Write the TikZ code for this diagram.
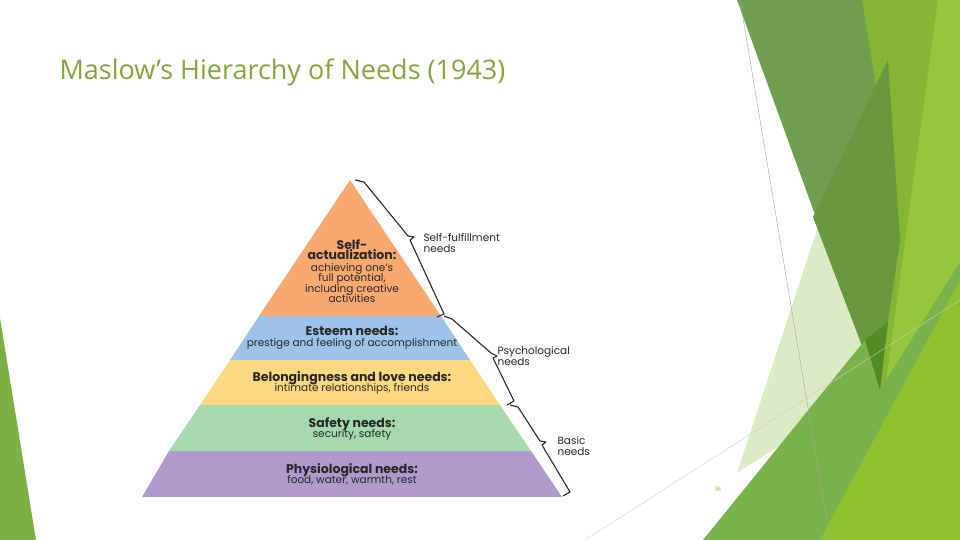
\documentclass[tikz,border=0pt]{standalone}
\usepackage{fontspec}
\setmainfont{Poppins}
\newfontfamily\titlefont{Open Sans}
\newcommand\hdf{\fontsize{12.5}{13.5}\selectfont\bfseries}
\begin{document}
\begin{tikzpicture}[x=1pt,y=-1pt,
  lvl/.style={align=center,font=\fontsize{10.5}{12.5}\selectfont,text=black!85},
  side/.style={align=left,anchor=west,font=\fontsize{10.5}{12.5}\selectfont,text=black!85},
  brace/.style={line width=1.1pt,black!85,line join=round}]
\useasboundingbox (0,0) rectangle (960,540);
\fill[white] (0,0) rectangle (960,540);
% decorations
\fill[color={rgb,255:red,122;green,176;blue,70}] (0,318) -- (36,540) -- (0,540) -- cycle;
\fill[color={rgb,255:red,221;green,235;blue,197}] (737,473) -- (830,190) -- (880,390) -- (850,400) -- cycle;
\fill[color={rgb,255:red,133;green,181;blue,52}] (862,0) -- (960,0) -- (960,540) -- (880,540) -- (878,388) -- cycle;
\fill[color={rgb,255:red,150;green,198;blue,60}] (938,0) -- (960,0) -- (960,540) -- (900,540) -- (878,440) -- cycle;
\fill[color={rgb,255:red,111;green,158;blue,78}] (737,0) -- (862,0) -- (900,240) -- (878,388) -- cycle;
\fill[color={rgb,255:red,106;green,152;blue,64}] (813,217) -- (888,60) -- (900,240) -- (878,388) -- cycle;
\fill[color={rgb,255:red,121;green,178;blue,74}] (703,540) -- (865,340) -- (880,390) -- (960,262) -- (960,540) -- cycle;
\fill[color={rgb,255:red,141;green,193;blue,45}] (820,540) -- (960,280) -- (960,540) -- cycle;
\fill[color={rgb,255:red,80;green,140;blue,35}] (865,340) -- (888,322) -- (880,390) -- cycle;
\coordinate (g1) at (740,0); \coordinate (g2) at (830,540);
\coordinate (g3) at (585,540); \coordinate (g4) at (960,300);
\draw[gray!70,line width=0.4pt] (g1) -- (g2);
\draw[gray!40,line width=0.4pt] (g3) -- (g4);
% title
\node[anchor=west,font=\titlefont\fontsize{27}{30}\selectfont,text={rgb,255:red,130;green,165;blue,60}] (title) at (56,72) {Maslow’s Hierarchy of Needs (1943)};
\node[font=\fontsize{6}{7}\selectfont,text={rgb,255:red,150;green,160;blue,60}] (pg) at (718,489) {16};
% pyramid
\fill[color={rgb,255:red,249;green,168;blue,112}] (350,180) -- (441,316) -- (259,316) -- cycle;
\fill[color={rgb,255:red,157;green,195;blue,233}] (441,316) -- (470,360) -- (230,360) -- (259,316) -- cycle;
\fill[color={rgb,255:red,253;green,216;blue,128}] (470,360) -- (500,405) -- (200,405) -- (230,360) -- cycle;
\fill[color={rgb,255:red,166;green,217;blue,174}] (500,405) -- (531,451) -- (169,451) -- (200,405) -- cycle;
\fill[color={rgb,255:red,176;green,154;blue,203}] (531,451) -- (562,497) -- (142,497) -- (169,451) -- cycle;
\node[lvl] (l1) at (352,271) {{\hdf Self-}\\[-2pt]{\hdf actualization:}\\[-1pt]achieving one’s\\[-2pt]full potential,\\[-2pt]including creative\\[-2pt]activities};
\node[lvl] (l2) at (352,338) {{\hdf Esteem needs:}\\[-2pt]prestige and feeling of accomplishment};
\node[lvl] (l3) at (352,383) {{\hdf Belongingness and love needs:}\\[-2pt]intimate relationships, friends};
\node[lvl] (l4) at (352,429) {{\hdf Safety needs:}\\[-2pt]security, safety};
\node[lvl] (l5) at (352,474) {{\hdf Physiological needs:}\\[-2pt]food, water, warmth, rest};
% braces
\draw[brace] (355,180) -- (364,182) -- (408,236) -- (414,237) -- (410,240) -- (444,314) -- (437,317);
\draw[brace] (444,316) -- (452,319) -- (491,353) -- (497,356) -- (493,358) -- (514,401) -- (507,405);
\draw[brace] (510,405) -- (518,407) -- (540,441) -- (546,442) -- (542,445) -- (570,492) -- (563,496);
\node[side] (s1) at (420,243) {Self-fulfillment\\[-2pt]needs};
\node[side] (s2) at (494,356) {Psychological\\[-2pt]needs};
\node[side] (s3) at (554,446) {Basic\\[-2pt]needs};
\end{tikzpicture}
\end{document}
